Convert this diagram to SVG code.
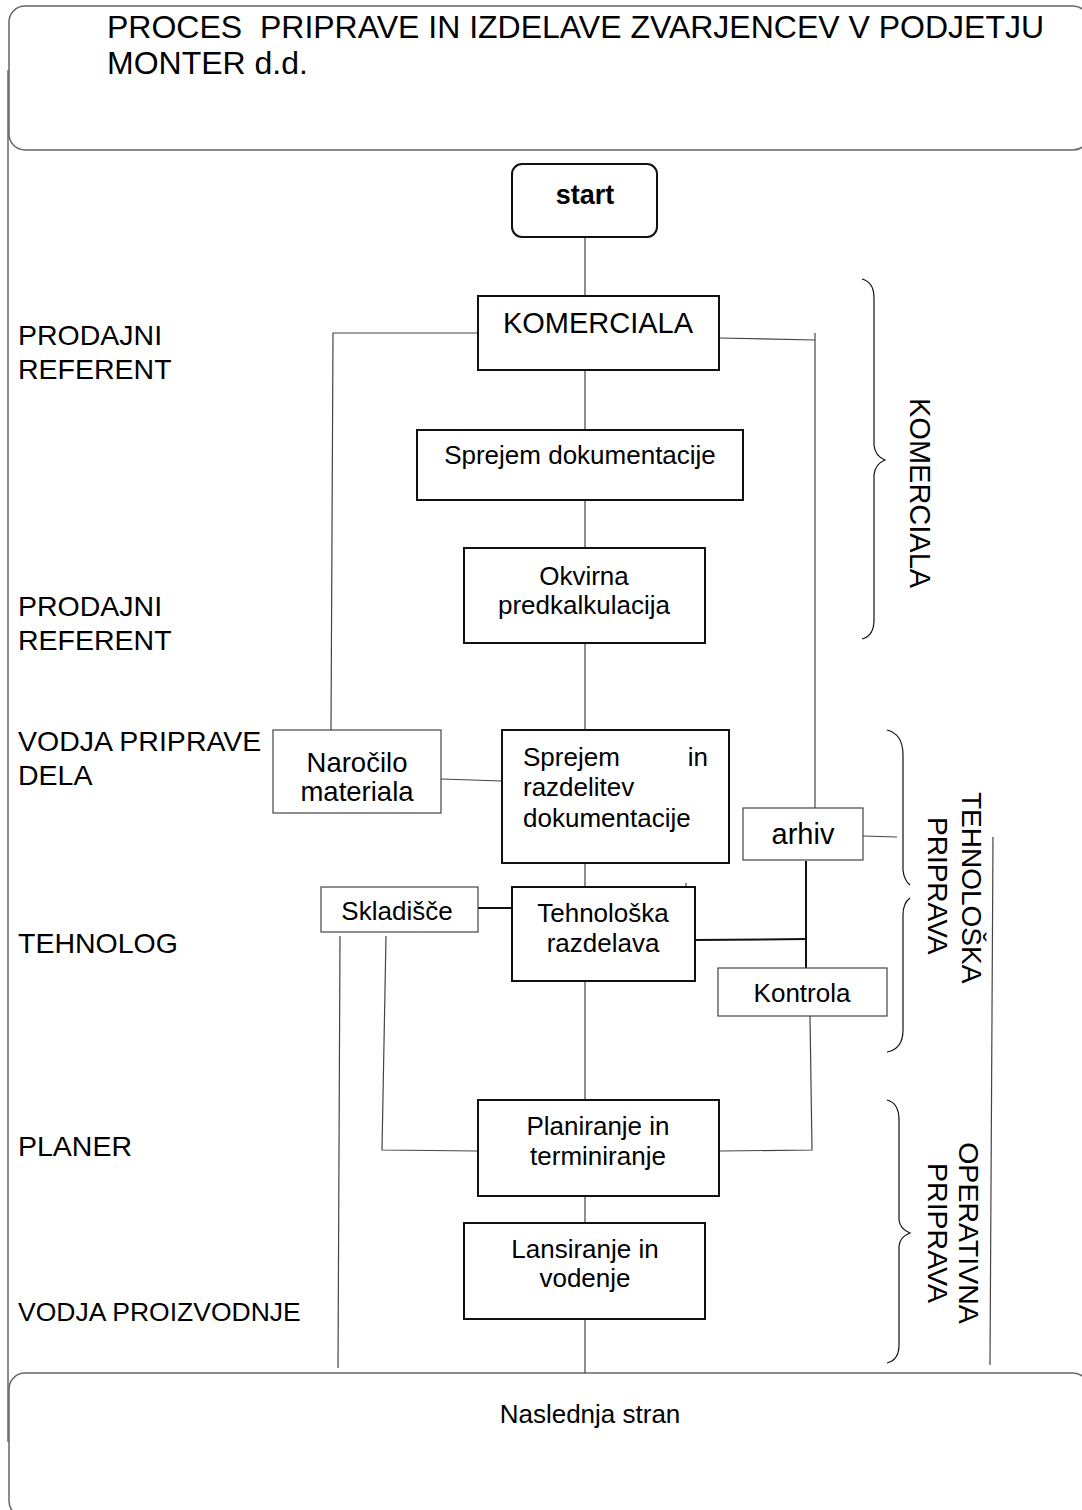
<svg xmlns="http://www.w3.org/2000/svg" width="1082" height="1510" viewBox="0 0 1082 1510">
<style>
text{font-family:"Liberation Sans",Arial,sans-serif;fill:#000}
.frame{fill:none;stroke:#666;stroke-width:1.5}
.box{fill:#fff;stroke:#111;stroke-width:2}
.sbox{fill:#fff;stroke:#444;stroke-width:1.2}
.ln{fill:none;stroke:#444;stroke-width:1.2}
.thick{fill:none;stroke:#111;stroke-width:2}
.br{fill:none;stroke:#111;stroke-width:1.2}
.lbl{font-size:28.5px}
.t26{font-size:26px}
.t29{font-size:29px}
.c{text-anchor:middle}
</style>
<rect width="1082" height="1510" fill="#fff"/>
<g id="frames">
<rect class="frame" x="9" y="6" width="1080" height="144" rx="16"/>
<line class="frame" x1="8" y1="70" x2="8" y2="1442"/>
<rect class="frame" x="9" y="1373" width="1080" height="144" rx="16"/>
</g>
<g id="title">
<text x="107" y="38" style="font-size:32px">PROCES&#160; PRIPRAVE IN IZDELAVE ZVARJENCEV V PODJETJU</text>
<text x="107" y="74" style="font-size:32px">MONTER d.d.</text>
</g>
<g id="roles">
<text class="lbl" x="18" y="345">PRODAJNI</text>
<text class="lbl" x="18" y="379">REFERENT</text>
<text class="lbl" x="18" y="616">PRODAJNI</text>
<text class="lbl" x="18" y="650">REFERENT</text>
<text class="lbl" x="18" y="751">VODJA PRIPRAVE</text>
<text class="lbl" x="18" y="785">DELA</text>
<text class="lbl" x="18" y="953">TEHNOLOG</text>
<text class="lbl" x="18" y="1156">PLANER</text>
<text x="18" y="1321" style="font-size:26.5px">VODJA PROIZVODNJE</text>
</g>
<g id="connectors">
<line class="ln" x1="585" y1="237" x2="585" y2="296"/>
<polyline class="ln" points="478,333 333,333 331,730"/>
<polyline class="ln" points="719,338 815,340"/>
<line class="ln" x1="815" y1="333" x2="815" y2="808"/>
<line class="ln" x1="585" y1="370" x2="585" y2="430"/>
<line class="ln" x1="585" y1="500" x2="585" y2="548"/>
<line class="ln" x1="585" y1="643" x2="585" y2="730"/>
<line class="ln" x1="441" y1="779" x2="502" y2="781"/>
<line class="ln" x1="585" y1="863" x2="585" y2="887"/>
<line class="ln" x1="686" y1="883" x2="686" y2="887"/>
<line class="thick" x1="478" y1="908" x2="512" y2="908"/>
<polyline class="thick" points="695,940 806,939"/>
<line class="thick" x1="806" y1="861" x2="806" y2="968"/>
<line class="ln" x1="863" y1="836" x2="897" y2="837"/>
<line class="ln" x1="340" y1="936" x2="338" y2="1368"/>
<polyline class="ln" points="386,936 382,1150 478,1151"/>
<polyline class="ln" points="810,1016 812,1150 719,1151"/>
<line class="ln" x1="585" y1="981" x2="585" y2="1100"/>
<line class="ln" x1="585" y1="1196" x2="585" y2="1223"/>
<line class="ln" x1="585" y1="1319" x2="585" y2="1373"/>
<line class="ln" x1="993" y1="837" x2="990" y2="1365"/>
</g>
<g id="braces">
<path class="br" d="M862,279 Q874,282 874,298 L874,445 Q875,456 885,460 Q875,464 874,475 L874,620 Q874,636 862,639"/>
<path class="br" d="M887,730 Q903,734 903,755 L903,870 Q904,880 910,885"/>
<path class="br" d="M910,898 Q903,903 903,915 L903,1030 Q903,1049 887,1052"/>
<path class="br" d="M887,1100 Q899,1103 899,1120 L899,1220 Q900,1229 910,1233 Q900,1237 899,1246 L899,1345 Q899,1360 887,1363"/>
</g>
<g id="sections">
<text class="t29" transform="translate(910,398) rotate(90)">KOMERCIALA</text>
<text style="font-size:28px" transform="translate(962,792) rotate(90)">TEHNOLOŠKA</text>
<text style="font-size:28px" transform="translate(928,817) rotate(90)">PRIPRAVA</text>
<text class="c" style="font-size:28.5px" transform="translate(959,1233) rotate(90)">OPERATIVNA</text>
<text class="c" style="font-size:28.5px" transform="translate(928,1233) rotate(90)">PRIPRAVA</text>
</g>
<g id="node-start">
<rect class="box" x="512" y="164" width="145" height="73" rx="10"/>
<text class="c" x="585" y="204" style="font-size:27px;font-weight:bold">start</text>
</g>
<g id="node-komerciala">
<rect class="box" x="478" y="296" width="241" height="74"/>
<text class="c t29" x="598" y="333">KOMERCIALA</text>
</g>
<g id="node-sprejem-dok">
<rect class="box" x="417" y="430" width="326" height="70"/>
<text class="c t26" x="580" y="464">Sprejem dokumentacije</text>
</g>
<g id="node-okvirna">
<rect class="box" x="464" y="548" width="241" height="95"/>
<text class="c t26" x="584" y="585">Okvirna</text>
<text class="c t26" x="584" y="614">predkalkulacija</text>
</g>
<g id="node-narocilo">
<rect class="sbox" x="273" y="730" width="168" height="83"/>
<text class="c" x="357" y="772" style="font-size:27.5px">Naročilo</text>
<text class="c" x="357" y="801" style="font-size:27.5px">materiala</text>
</g>
<g id="node-sprejem-razd">
<rect class="box" x="502" y="730" width="227" height="133"/>
<text class="t26" x="523" y="766">Sprejem</text>
<text class="t26" x="708" y="766" text-anchor="end">in</text>
<text class="t26" x="523" y="796">razdelitev</text>
<text class="t26" x="523" y="827">dokumentacije</text>
</g>
<g id="node-arhiv">
<rect class="sbox" x="743" y="808" width="120" height="52"/>
<text class="c t29" x="803" y="844">arhiv</text>
</g>
<g id="node-skladisce">
<rect class="sbox" x="321" y="887" width="157" height="45"/>
<text class="c t26" x="397" y="920">Skladišče</text>
</g>
<g id="node-tehnoloska">
<rect class="box" x="512" y="887" width="183" height="94"/>
<text class="c t26" x="603" y="922">Tehnološka</text>
<text class="c t26" x="603" y="952">razdelava</text>
</g>
<g id="node-kontrola">
<rect class="sbox" x="718" y="968" width="169" height="48"/>
<text class="c t26" x="802" y="1002">Kontrola</text>
</g>
<g id="node-planiranje">
<rect class="box" x="478" y="1100" width="241" height="96"/>
<text class="c t26" x="598" y="1135">Planiranje in</text>
<text class="c t26" x="598" y="1165">terminiranje</text>
</g>
<g id="node-lansiranje">
<rect class="box" x="464" y="1223" width="241" height="96"/>
<text class="c t26" x="585" y="1258">Lansiranje in</text>
<text class="c t26" x="585" y="1287">vodenje</text>
</g>
<g id="node-naslednja">
<text class="c t26" x="590" y="1423">Naslednja stran</text>
</g>
</svg>
